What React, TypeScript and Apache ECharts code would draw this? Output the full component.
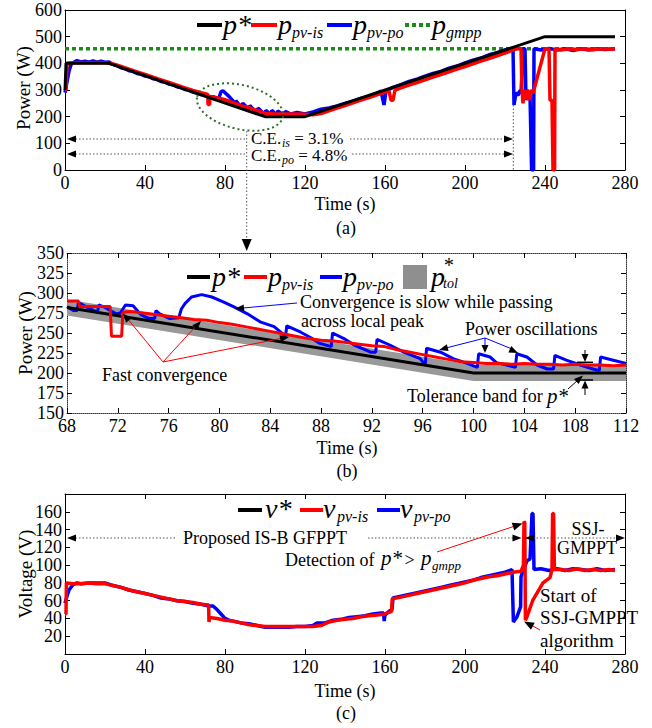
import React, { useEffect, useRef } from "react";
import * as echarts from "echarts";

const FONT = "Liberation Serif";

// ---------------- Panel (a): power vs time ----------------
const pStarA: number[][] = [[0, 300], [0.5, 400], [22, 400], [100, 200], [120, 200], [240, 500], [275, 500]];
const pGmppA: number[][] = [[0, 455], [275, 455]];
const pPvIsA: number[][] = [
  [0, 300], [0.5, 300], [1, 400], [4, 402], [8, 403], [12, 402], [16, 403], [20, 402], [24, 398], [28, 388],
  [32, 378], [36, 368], [40, 358], [44, 348], [48, 338], [52, 328], [56, 318], [60, 308], [64, 298], [68, 290],
  [71.4, 283], [71.5, 246], [72.3, 246], [72.4, 276], [76, 271], [80, 264], [84, 253], [88, 241], [92, 234],
  [96, 223], [100, 213], [104, 211], [108, 210], [112, 210], [116, 210], [120, 209], [124, 207], [128, 212],
  [132, 222], [136, 232], [140, 242], [144, 252], [148, 262], [152, 272], [156, 282], [160, 292], [162, 296],
  [163, 262], [164, 262], [165, 300], [168, 308], [172, 318], [176, 328], [180, 338], [184, 348], [188, 358],
  [192, 368], [196, 378], [200, 388], [204, 398], [208, 408], [212, 418], [216, 428], [220, 438], [224, 450],
  [226, 455], [228, 455], [228.5, 300], [229, 250], [229.5, 300], [230, 268], [231, 300], [232, 262], [233, 300],
  [234, 288], [240, 455], [242, 455], [242.5, 262], [243.5, 262], [244, 0], [244.8, 0], [245, 455], [248, 450],
  [252, 455], [256, 452], [260, 455], [264, 451], [268, 455], [272, 453], [275, 455],
];
const pPvPoA: number[][] = [
  [0, 290], [1, 330], [2, 370], [3, 395], [4, 402], [6, 410], [8, 405], [10, 408], [12, 404], [14, 409], [16, 404],
  [18, 408], [20, 404], [22, 405], [24, 396], [26, 392], [28, 383], [30, 380], [32, 372], [34, 370], [36, 362],
  [38, 359], [40, 352], [42, 350], [44, 342], [46, 340], [48, 332], [50, 329], [52, 322], [54, 320], [56, 312],
  [58, 309], [60, 302], [62, 300], [64, 292], [66, 289], [68, 283], [70, 285], [72, 276], [74, 275], [76, 269],
  [77, 272], [78, 293], [79, 297], [80, 290], [82, 276], [84, 259], [85.3, 245], [85.4, 260], [88, 236],
  [88.9, 250], [92, 226], [92.4, 242], [96, 210], [96.5, 232], [100, 207], [100.4, 224], [103, 207],
  [103.4, 224], [106, 205], [106.4, 222], [109.8, 203], [110, 220], [113, 210], [116, 216], [120, 210],
  [124, 218], [128, 228], [132, 233], [136, 240], [140, 250], [144, 258], [148, 268], [152, 276], [156, 288],
  [158, 296], [159.5, 244], [160.5, 296], [164, 310], [168, 320], [172, 332], [176, 341], [180, 352],
  [184, 362], [188, 370], [192, 382], [196, 390], [200, 402], [204, 412], [208, 420], [212, 432], [216, 440],
  [220, 450], [224, 458], [224.5, 244], [225.5, 290], [226.5, 280], [227.5, 298], [228, 285], [229, 455],
  [230, 455], [230.5, 262], [231, 300], [232.5, 280], [233.3, 0], [234.3, 0], [234.5, 455], [238, 450],
  [242, 456], [246, 450], [250, 455], [254, 448], [258, 455], [262, 450], [266, 455], [270, 452], [275, 455],
];

// ---------------- Panel (b): zoom 68–112 s ----------------
const pStarB: number[][] = [[68, 282], [100, 200], [112, 200]];
const pTolB: number[][] = [[68, 272, 292], [100, 190, 210], [112, 190, 210]];
const pPvIsB: number[][] = [
  [68, 290], [68.9, 290], [69, 283], [71.4, 283], [71.5, 246], [72.3, 246], [72.4, 276], [73, 277], [74, 275],
  [75, 273], [76, 271], [77, 269], [78, 267], [79, 266], [80, 263], [81, 261], [82, 258], [83, 255], [84, 252],
  [85, 249], [86, 246], [87, 243], [88, 241], [89, 240], [90, 238], [91, 236], [92, 234], [93, 233], [94, 229],
  [95, 226], [96, 223], [97, 220], [98, 217], [99, 214], [100, 213], [101, 212], [102, 212], [103, 211],
  [104, 212], [105, 211], [106, 211], [107, 210], [108, 211], [109, 210], [110, 210], [111, 209], [112, 210],
];
const pPvPoB: number[][] = [
  [68, 283], [68.5, 278], [68.8, 278], [68.9, 288], [69.5, 283], [70, 279], [70.4, 276], [70.5, 285], [71, 282],
  [71.4, 278], [71.9, 274], [72.2, 275], [72.4, 280], [72.6, 285], [73.2, 284], [73.8, 273], [74.5, 268],
  [74.9, 268], [75, 278], [75.3, 274], [76.1, 268], [76.8, 269], [77, 280], [77.3, 287], [77.8, 295],
  [78.6, 298], [79.4, 295], [80.3, 289], [81.1, 283], [82.2, 274], [83.2, 264], [84.3, 258], [85.2, 246],
  [85.3, 259], [86.4, 251], [87.2, 244], [87.9, 237], [88.8, 233], [88.9, 250], [89.8, 243], [90.6, 235],
  [91.9, 226], [92.3, 226], [92.4, 242], [93.4, 235], [94.5, 226], [95.8, 218], [96.2, 210], [96.3, 231],
  [97.4, 226], [98.4, 218], [99.5, 212], [100.3, 207], [100.4, 224], [101.3, 220], [101.8, 213], [102.6, 210],
  [103.3, 207], [103.4, 224], [104.2, 220], [105, 210], [105.8, 205], [106.3, 205], [106.4, 222], [107.3, 216],
  [108.4, 210], [109.4, 205], [109.9, 203], [110, 220], [111, 216], [112, 212],
];

// ---------------- Panel (c): voltage vs time ----------------
const vPvIsC: number[][] = [
  [0, 45], [0.5, 45], [0.7, 80], [4, 79], [8, 79], [12, 80], [16, 79], [20, 79], [24, 77], [28, 75], [32, 72],
  [36, 70], [40, 68], [44, 66], [48, 64], [52, 62], [56, 60], [60, 59], [64, 58], [68, 56], [71.8, 55], [72, 36],
  [72.3, 41], [76, 40], [80, 38], [84, 37], [88, 35], [92, 33], [96, 32], [100, 31], [104, 31], [108, 31],
  [112, 31], [116, 31], [120, 31], [124, 31], [128, 32], [132, 36], [136, 38], [140, 39], [144, 40], [148, 42],
  [152, 43], [156, 44], [160, 45], [162, 47], [163.3, 48], [163.6, 62], [168, 64], [172, 66], [176, 68],
  [180, 70], [184, 72], [188, 74], [192, 76], [196, 78], [200, 80], [204, 83], [208, 85], [212, 87], [216, 88],
  [220, 90], [224, 92], [228, 93], [229.2, 100], [229.5, 149], [229.9, 148], [230.2, 38], [231, 42], [234, 61],
  [239, 80], [242.5, 86], [243.5, 95], [243.8, 158], [244.3, 158], [244.7, 95], [248, 95], [252, 94], [256, 96],
  [260, 94], [264, 95], [268, 94], [272, 95], [275, 94],
];
const vPvPoC: number[][] = [
  [0, 57], [1, 65], [2, 72], [4, 78], [6, 80], [8, 79], [12, 80], [16, 80], [20, 80], [24, 77], [28, 75],
  [32, 72], [36, 70], [40, 68], [44, 66], [48, 63], [52, 62], [56, 60], [60, 59], [64, 57], [68, 56], [72, 54],
  [74, 54], [76, 50], [78, 45], [80, 40], [82, 38], [84, 37], [88, 35], [92, 34], [96, 32], [100, 30], [104, 30],
  [108, 30], [112, 30], [116, 31], [120, 31], [124, 32], [126, 35], [130, 35], [134, 38], [138, 39], [142, 41],
  [146, 42], [150, 43], [154, 45], [158, 46], [159.3, 46], [159.6, 37], [160, 44], [162, 48], [163.5, 50],
  [164, 63], [168, 65], [172, 67], [176, 69], [180, 71], [184, 73], [188, 75], [192, 77], [196, 79], [200, 81],
  [204, 83], [208, 86], [212, 88], [216, 90], [220, 92], [223.5, 95], [224.2, 36], [226, 42], [227.8, 53],
  [228, 87], [231, 105], [232.5, 107], [233.5, 158], [234, 158], [234.5, 95], [238, 96], [242, 94], [246, 96],
  [250, 94], [254, 96], [258, 95], [262, 94], [266, 96], [270, 94], [275, 95],
];

// ---------------- helpers ----------------
type Opt = { size?: number; italic?: boolean; color?: string; align?: string; va?: string; rot?: number };
const txt = (x: number, y: number, text: string, o: Opt = {}) => ({
  type: "text", x, y, rotation: o.rot ?? 0, silent: true, z: 100,
  style: {
    text, fontFamily: FONT, fontSize: o.size ?? 18, fontStyle: o.italic ? "italic" : "normal", fontWeight: "normal",
    fill: o.color ?? "#000", align: o.align ?? "left", textAlign: o.align ?? "left",
    verticalAlign: o.va ?? "middle", textVerticalAlign: o.va ?? "middle",
  },
});
const ln = (x1: number, y1: number, x2: number, y2: number, color: string, w: number, dash?: number[]) => ({
  type: "line", silent: true, z: 100, shape: { x1, y1, x2, y2 },
  style: { stroke: color, lineWidth: w, lineDash: dash ?? null },
});
const head = (tx: number, ty: number, fx: number, fy: number, len = 9, hw = 3.5, color = "#000") => {
  const dx = tx - fx, dy = ty - fy, d = Math.hypot(dx, dy) || 1;
  const ux = dx / d, uy = dy / d, bx = tx - ux * len, by = ty - uy * len;
  return {
    type: "polygon", silent: true, z: 101,
    shape: { points: [[tx, ty], [bx - uy * hw, by + ux * hw], [bx + uy * hw, by - ux * hw]] },
    style: { fill: color },
  };
};
const DOT = [1.5, 2];
const GRAYDOT = "#555";

const legendSym = (x: number, y: number, main: string, sub: string, mainSize = 28, subSize = 16) => [
  txt(x, y, main, { size: mainSize, italic: true }),
  txt(x + mainSize * 0.5, y + 8, sub, { size: subSize, italic: true }),
];

function makeAxes(grid: number, xmin: number, xmax: number, xint: number, ymin: number, ymax: number, yint: number, dotted: boolean, topTicks: boolean) {
  const lineStyle = { color: dotted ? "#333" : "#000", width: 1, type: dotted ? "dotted" : "solid" };
  const tick = { show: true, inside: true, length: 5, lineStyle: { color: "#000", width: 1 } };
  const label = { fontFamily: FONT, fontSize: 18, color: "#000", fontWeight: "normal" };
  const xs = [
    { type: "value", gridIndex: grid, min: xmin, max: xmax, interval: xint, position: "bottom",
      axisLine: { show: true, onZero: false, lineStyle }, axisTick: tick,
      axisLabel: { ...label, margin: 4 }, splitLine: { show: false } },
    { type: "value", gridIndex: grid, min: xmin, max: xmax, interval: xint, position: "top",
      axisLine: { show: true, onZero: false, lineStyle }, axisTick: { ...tick, show: topTicks },
      axisLabel: { show: false }, splitLine: { show: false } },
  ];
  const ys = [
    { type: "value", gridIndex: grid, min: ymin, max: ymax, interval: yint, position: "left",
      axisLine: { show: true, onZero: false, lineStyle }, axisTick: tick,
      axisLabel: { ...label, margin: 3 }, splitLine: { show: false } },
    { type: "value", gridIndex: grid, min: ymin, max: ymax, interval: yint, position: "right",
      axisLine: { show: true, onZero: false, lineStyle }, axisTick: tick,
      axisLabel: { show: false }, splitLine: { show: false } },
  ];
  return { xs, ys };
}

const line = (data: number[][], panel: number, color: string, width = 3, type: any = "solid", z = 2) => ({
  type: "line", data, xAxisIndex: panel * 2, yAxisIndex: panel * 2, showSymbol: false, symbol: "none",
  lineStyle: { color, width, type }, z, clip: true, silent: true, animation: false,
});

export default function App() {
  const ref = useRef<HTMLDivElement>(null);
  useEffect(() => {
    if (!ref.current) return;
    const chart = echarts.init(ref.current, null, { renderer: "svg" });
    const A = makeAxes(0, 0, 280, 40, 0, 600, 100, false, false);
    const B = makeAxes(1, 68, 112, 4, 150, 350, 25, true, true);
    const C = makeAxes(2, 0, 280, 40, 0, 180, 20, false, true);

    const RED = "#ff0000", BLUE = "#0000ff", GREEN = "#1a8a1a";

    const graphics: any[] = [
      // axis titles
      txt(23, 88, "Power (W)", { size: 19, align: "center", rot: Math.PI / 2 }),
      txt(345, 204, "Time (s)", { size: 18, align: "center" }),
      txt(346, 228, "(a)", { size: 18, align: "center" }),
      txt(25, 333, "Power (W)", { size: 19, align: "center", rot: Math.PI / 2 }),
      txt(347, 448, "Time (s)", { size: 18, align: "center" }),
      txt(347, 471, "(b)", { size: 18, align: "center" }),
      txt(25, 574, "Voltage (V)", { size: 19, align: "center", rot: Math.PI / 2 }),
      txt(345, 691, "Time (s)", { size: 18, align: "center" }),
      txt(346, 713, "(c)", { size: 18, align: "center" }),

      // legend (a)
      ln(197, 25, 222, 25, "#000", 4),
      txt(223, 24, "p*", { size: 28, italic: true }),
      ln(251, 25, 277, 25, RED, 4),
      ...legendSym(278, 24, "p", "pv-is"),
      ln(327, 25, 352, 25, BLUE, 4),
      ...legendSym(353, 24, "p", "pv-po"),
      ln(405, 25, 430, 25, GREEN, 4, [4, 3]),
      ...legendSym(432, 24, "p", "gmpp"),

      // annotations (a)
      { type: "ellipse", x: 240, y: 107, rotation: -0.235, silent: true, z: 100,
        shape: { cx: 0, cy: 0, rx: 44, ry: 22 },
        style: { fill: "none", stroke: "#2e6b2e", lineWidth: 2, lineDash: [2, 3] } },
      ln(245, 139, 72, 139, GRAYDOT, 1, DOT), head(67, 139, 245, 139, 9, 3.5),
      ln(350, 139, 506, 139, GRAYDOT, 1, DOT), head(513, 139, 350, 139, 9, 3.5),
      ln(245, 154, 72, 154, GRAYDOT, 1, DOT), head(67, 154, 245, 154, 9, 3.5),
      ln(352, 154, 506, 154, GRAYDOT, 1, DOT), head(513, 154, 352, 154, 9, 3.5),
      txt(251, 138, "C.E.", { size: 17 }),
      txt(282, 143, "is", { size: 12, italic: true }),
      txt(290, 138, " = 3.1%", { size: 17 }),
      txt(251, 155, "C.E.", { size: 17 }),
      txt(282, 160, "po", { size: 12, italic: true }),
      txt(294, 155, " = 4.8%", { size: 17 }),
      ln(246.7, 131, 246.7, 240, GRAYDOT, 1, DOT), head(246.7, 251, 246.7, 230, 12, 5),
      ln(513.3, 105, 513.3, 170, GRAYDOT, 1, DOT),

      // legend (b)
      ln(187, 277, 210, 277, "#000", 4),
      txt(212, 276, "p*", { size: 28, italic: true }),
      ln(244, 277, 267, 277, RED, 4),
      ...legendSym(268, 276, "p", "pv-is"),
      ln(320, 277, 342, 277, BLUE, 4),
      ...legendSym(343, 276, "p", "pv-po"),
      { type: "rect", silent: true, z: 100, shape: { x: 403, y: 265, width: 24, height: 24 }, style: { fill: "#8f8f8f" } },
      txt(431, 276, "p", { size: 28, italic: true }),
      txt(443, 265, "*", { size: 20, italic: true }),
      txt(443, 283, "tol", { size: 14, italic: true }),

      // annotations (b)
      txt(300, 302, "Convergence is slow while passing", { size: 18 }),
      txt(301, 321, "across local peak", { size: 18 }),
      ln(297, 303, 240, 308.3, BLUE, 1), head(235, 308.7, 297, 303, 9, 3.5),
      txt(102, 375, "Fast convergence", { size: 18 }),
      ln(163, 362, 127, 318, RED, 1), head(123, 313.5, 163, 362, 9, 3.5),
      ln(163, 362, 196, 326, RED, 1), head(201, 321, 163, 362, 9, 3.5),
      ln(163, 362, 283, 338, RED, 1), head(289, 337, 163, 362, 9, 3.5),
      txt(465, 329, "Power oscillations", { size: 18 }),
      ln(485, 338, 446, 348, BLUE, 1), head(439, 350, 485, 338, 9, 3.5),
      ln(485, 338, 485, 346, BLUE, 1), head(485, 353, 485, 338, 8, 3.5),
      ln(485, 338, 512, 349, BLUE, 1), head(518, 353, 485, 338, 9, 3.5),
      ln(585, 350, 585, 355, "#000", 1), head(585, 362, 585, 350, 8, 3.5),
      ln(577, 362.3, 593, 362.3, "#000", 1.5),
      ln(585, 395, 585, 387, "#000", 1), head(585, 380.5, 585, 395, 8, 3.5),
      ln(577, 380, 593, 380, "#000", 1.5),
      ln(568, 389, 578, 380, "#000", 1), head(583, 375.5, 568, 389, 9, 3.5),
      txt(407, 396, "Tolerance band for ", { size: 18 }),
      txt(547, 396, "p*", { size: 21, italic: true }),

      // legend (c)
      ln(238, 510, 262, 510, "#000", 4),
      txt(265, 508, "v*", { size: 28, italic: true }),
      ln(300, 510, 323, 510, RED, 4),
      ...legendSym(323, 508, "v", "pv-is"),
      ln(377, 510, 400, 510, BLUE, 4),
      ...legendSym(400, 508, "v", "pv-po"),

      // annotations (c)
      ln(175, 538, 72, 538, GRAYDOT, 1, DOT), head(67, 538, 175, 538, 9, 3.5),
      txt(183, 538, "Proposed IS-B GFPPT", { size: 18 }),
      ln(368, 538, 513, 538, GRAYDOT, 1, DOT), head(521.5, 538, 368, 538, 9, 3.5),
      head(525, 538, 540, 538, 9, 3.5),
      ln(533, 538, 616, 538, GRAYDOT, 1, DOT), head(625, 538, 533, 538, 9, 3.5),
      txt(588, 529, "SSJ-", { size: 18, align: "center" }),
      txt(587, 548, "GMPPT", { size: 18, align: "center" }),
      txt(285, 560, "Detection of ", { size: 18 }),
      txt(381, 558, "p*", { size: 21, italic: true }),
      txt(400, 560, " > ", { size: 18 }),
      txt(421, 558, "p", { size: 21, italic: true }),
      txt(432, 565, "gmpp", { size: 13, italic: true }),
      ln(437, 552, 515, 526, RED, 1), head(522.5, 523.5, 437, 552, 10, 4),
      txt(540, 595, "Start of", { size: 19 }),
      txt(540, 617, "SSJ-GMPPT", { size: 19 }),
      txt(540, 640, "algorithm", { size: 19 }),
      ln(540, 630, 531, 625, RED, 1), head(524, 621.5, 540, 630, 10, 4),
    ];

    chart.setOption({
      animation: false,
      backgroundColor: "#fff",
      textStyle: { fontFamily: FONT },
      grid: [
        { left: 65, top: 10, width: 560, height: 160 },
        { left: 67, top: 253, width: 559, height: 160 },
        { left: 65, top: 494, width: 560, height: 160 },
      ],
      xAxis: [...A.xs, ...B.xs, ...C.xs],
      yAxis: [...A.ys, ...B.ys, ...C.ys],
      series: [
        // (a)
        line(pGmppA, 0, GREEN, 3.5, [4, 3], 1),
        line(pPvPoA, 0, BLUE, 3.5, "solid", 2),
        line(pPvIsA, 0, RED, 3.5, "solid", 3),
        line(pStarA, 0, "#000", 3, "solid", 4),
        // (b)
        {
          type: "custom", xAxisIndex: 2, yAxisIndex: 2, data: pTolB, silent: true, z: 1,
          encode: { x: 0, y: [1, 2] },
          renderItem: (params: any, api: any) => {
            if (params.dataIndex !== 0) return null;
            const upper = pTolB.map((d) => api.coord([d[0], d[2]]));
            const lower = pTolB.slice().reverse().map((d) => api.coord([d[0], d[1]]));
            return { type: "polygon", shape: { points: [...upper, ...lower] }, style: { fill: "#999999" } };
          },
        },
        line(pPvPoB, 1, BLUE, 3, "solid", 2),
        line(pStarB, 1, "#000", 3, "solid", 3),
        line(pPvIsB, 1, RED, 3, "solid", 4),
        // (c)
        line(vPvPoC, 2, BLUE, 3.5, "solid", 2),
        line(vPvIsC, 2, RED, 3.5, "solid", 3),
      ],
      graphic: graphics,
    });
    return () => chart.dispose();
  }, []);
  return <div ref={ref} style={{ position: "fixed", left: 0, top: 0, width: 652, height: 728 }} />;
}
